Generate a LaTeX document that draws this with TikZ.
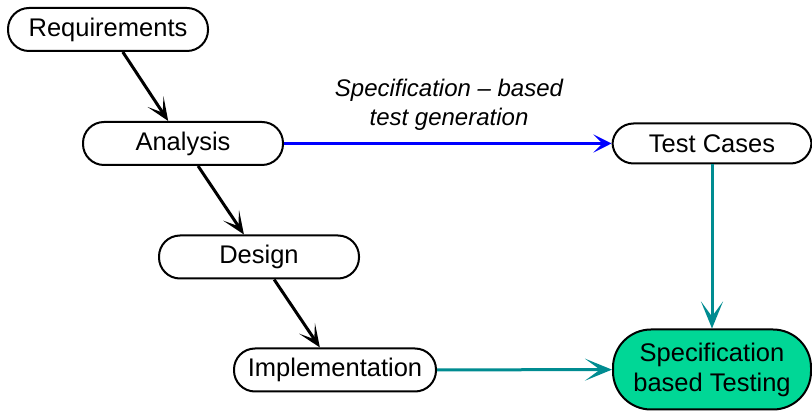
\documentclass[tikz,border=0pt]{standalone}
\usepackage{fontspec}
\setmainfont{Liberation Sans}
\usetikzlibrary{arrows.meta}
\definecolor{flowteal}{RGB}{0,140,145}
\definecolor{resultgreen}{RGB}{0,215,150}
\tikzset{
  phase/.style={draw=black, line width=2pt, rounded corners=21pt, fill=white,
    minimum width=200pt, minimum height=43pt, inner sep=2pt,
    font=\fontsize{25.5}{30}\selectfont},
  flow/.style={line width=3pt, -{Stealth[length=23pt, width=19pt, inset=13pt]}},
  bigflow/.style={line width=3pt, -{Stealth[length=27pt, width=22pt, inset=15pt]}},
  genflow/.style={line width=2.5pt, -{Stealth[length=18pt, width=18pt, inset=9pt]}},
}
\begin{document}
\begin{tikzpicture}[x=1pt, y=-1pt]
  \useasboundingbox (0,0) rectangle (812,411);

  % development phases
  \node[phase] (req) at (108,29.5) {Requirements};
  \node[phase] (ana) at (183,143.5) {Analysis};
  \node[phase] (des) at (259,257) {Design};
  \node[phase, minimum width=202pt] (imp) at (335,370) {Implementation};

  % test artefacts
  \node[phase, minimum width=199pt, minimum height=40pt] (tc) at (712,143.5) {Test Cases};
  \node[phase, fill=resultgreen, minimum width=198pt, minimum height=80pt,
        rounded corners=38pt, align=center] (sbt) at (712,369.5)
        {Specification\\based Testing};

  % phase sequence
  \draw[flow, black] (req) -- (ana);
  \draw[flow, black] (ana) -- (des);
  \draw[flow, black] (des) -- (imp);

  % test generation and testing
  \draw[genflow, blue] (ana) -- (tc);
  \node[align=center, font=\fontsize{24}{29}\selectfont\itshape] (lbl) at (449,104.5)
    {Specification -- based\\test generation};
  \draw[bigflow, flowteal] (tc) -- (sbt);
  \draw[bigflow, flowteal] (imp) -- (sbt);
\end{tikzpicture}
\end{document}
